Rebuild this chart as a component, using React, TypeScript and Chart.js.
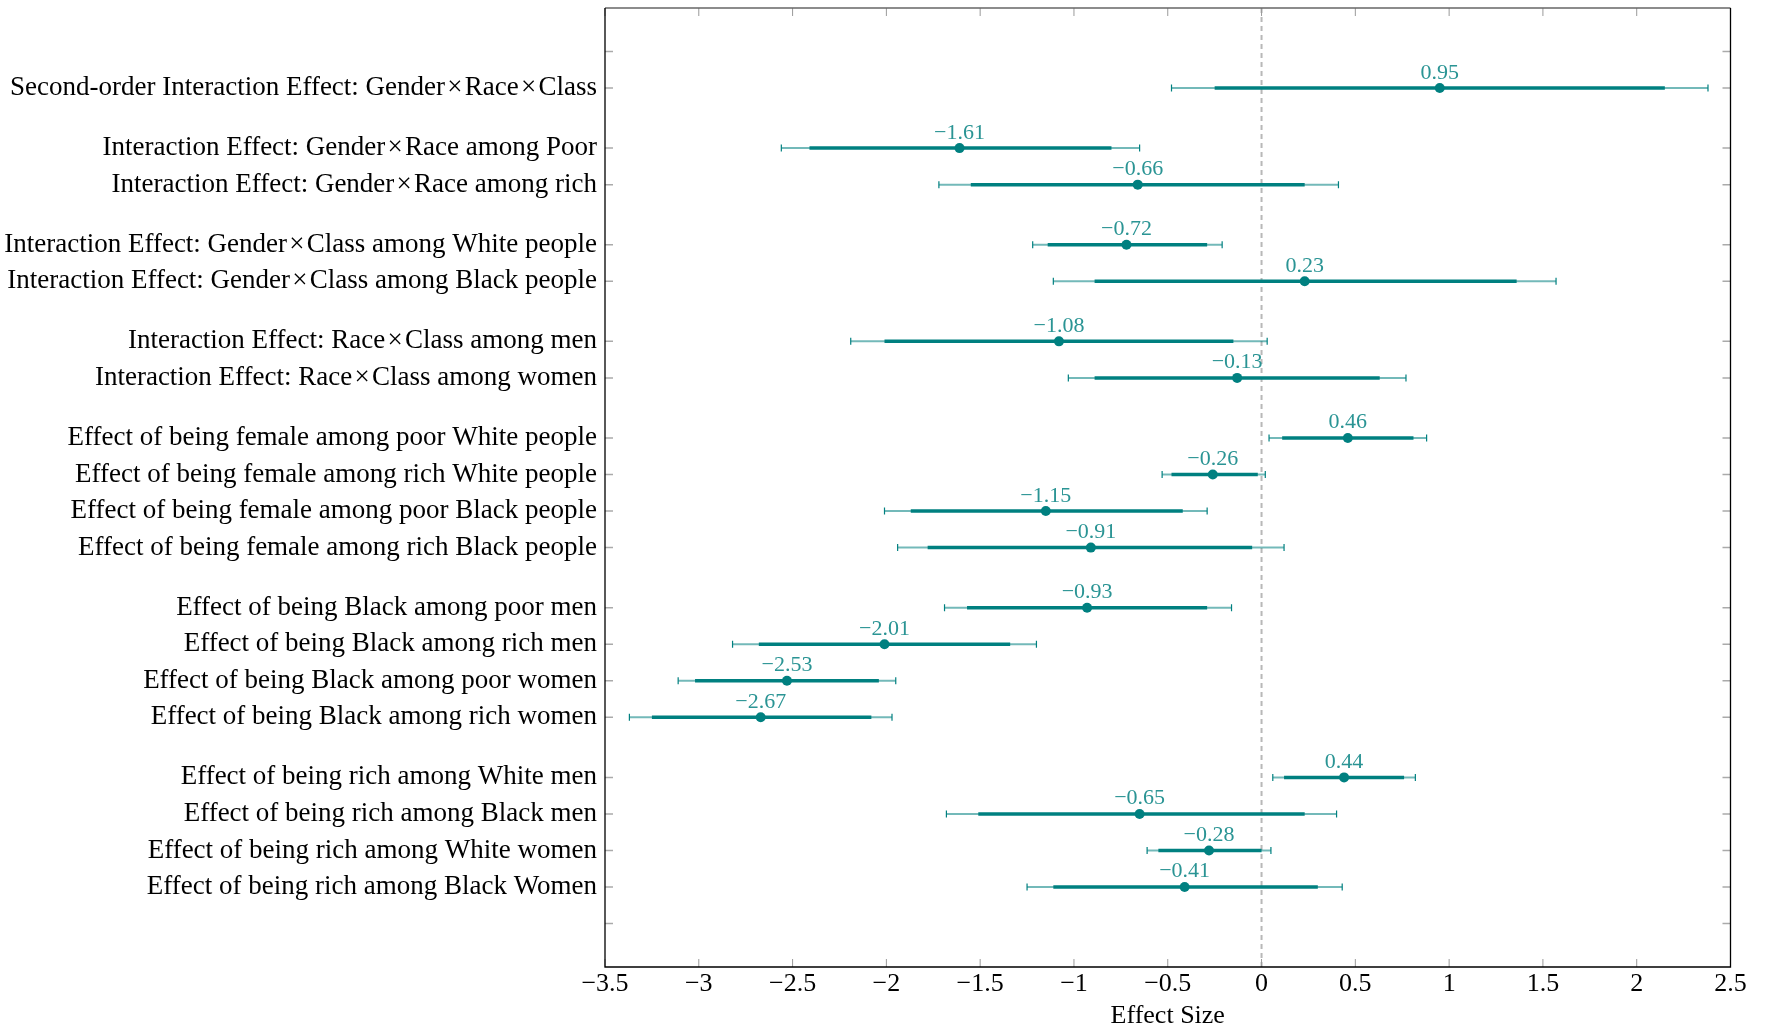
import React, { useEffect, useRef } from "react";
import { Chart, registerables } from "chart.js";

Chart.register(...registerables);

const X = "\u200a\u00d7\u200a";

const LABELS: string[] = [
  `Second-order Interaction Effect: Gender${X}Race${X}Class`,
  `Interaction Effect: Gender${X}Race among Poor`,
  `Interaction Effect: Gender${X}Race among rich`,
  `Interaction Effect: Gender${X}Class among White people`,
  `Interaction Effect: Gender${X}Class among Black people`,
  `Interaction Effect: Race${X}Class among men`,
  `Interaction Effect: Race${X}Class among women`,
  "Effect of being female among poor White people",
  "Effect of being female among rich White people",
  "Effect of being female among poor Black people",
  "Effect of being female among rich Black people",
  "Effect of being Black among poor men",
  "Effect of being Black among rich men",
  "Effect of being Black among poor women",
  "Effect of being Black among rich women",
  "Effect of being rich among White men",
  "Effect of being rich among Black men",
  "Effect of being rich among White women",
  "Effect of being rich among Black Women",
];

const ESTIMATES: number[] = [0.95, -1.61, -0.66, -0.72, 0.23, -1.08, -0.13, 0.46, -0.26, -1.15, -0.91, -0.93, -2.01, -2.53, -2.67, 0.44, -0.65, -0.28, -0.41];
const LO95: number[] = [-0.48, -2.56, -1.72, -1.22, -1.11, -2.19, -1.03, 0.04, -0.53, -2.01, -1.94, -1.69, -2.82, -3.11, -3.37, 0.06, -1.68, -0.61, -1.25];
const HI95: number[] = [2.38, -0.65, 0.41, -0.21, 1.57, 0.03, 0.77, 0.88, 0.02, -0.29, 0.12, -0.16, -1.2, -1.95, -1.97, 0.82, 0.4, 0.05, 0.43];
const LO90: number[] = [-0.25, -2.41, -1.55, -1.14, -0.89, -2.01, -0.89, 0.11, -0.48, -1.87, -1.78, -1.57, -2.68, -3.02, -3.25, 0.12, -1.51, -0.55, -1.11];
const HI90: number[] = [2.15, -0.8, 0.23, -0.29, 1.36, -0.15, 0.63, 0.81, -0.02, -0.42, -0.05, -0.29, -1.34, -2.04, -2.08, 0.76, 0.23, 0.0, 0.3];

const GROUP_SIZES: number[] = [1, 2, 2, 2, 4, 4, 4];
const GROUP_GAP = 1.645;
const X_TICKS: number[] = [-3.5, -3, -2.5, -2, -1.5, -1, -0.5, 0, 0.5, 1, 1.5, 2, 2.5];
const X_TITLE = "Effect Size";

const TEAL = "#008080";
const SERIF = "'Liberation Serif', 'Times New Roman', serif";

function rowPositions(): number[] {
  const pos: number[] = [];
  let y = 1;
  GROUP_SIZES.forEach((n, gi) => {
    if (gi > 0) y += GROUP_GAP - 1;
    for (let i = 0; i < n; i++) {
      pos.push(y);
      y += 1;
    }
  });
  return pos;
}

const POS = rowPositions();
const Y_TICK_VALUES = [0, ...POS, POS[POS.length - 1] + 1];
const Y_MIN = -1.19;
const Y_MAX = POS[POS.length - 1] + 1 + 1.19;

function fmtSigned(v: number, digits?: number): string {
  const a = Math.abs(v);
  const s = digits === undefined ? String(Math.round(a * 100) / 100) : a.toFixed(digits);
  return (v < 0 ? "\u2212" : "") + s;
}

const forestPlugin = {
  id: "forest",
  beforeDatasetsDraw(chart: any) {
    const { ctx, chartArea: a, scales } = chart;
    const x = scales.x;
    const y = scales.y;
    ctx.save();
    // zero reference line
    const x0 = x.getPixelForValue(0);
    ctx.strokeStyle = "#b8b8b8";
    ctx.lineWidth = 2;
    ctx.setLineDash([5, 4]);
    ctx.beginPath();
    ctx.moveTo(x0, a.top);
    ctx.lineTo(x0, a.bottom);
    ctx.stroke();
    ctx.setLineDash([]);

    POS.forEach((p, i) => {
      const py = y.getPixelForValue(p);
      const l95 = x.getPixelForValue(LO95[i]);
      const h95 = x.getPixelForValue(HI95[i]);
      const l90 = x.getPixelForValue(LO90[i]);
      const h90 = x.getPixelForValue(HI90[i]);
      // 95% whisker
      ctx.strokeStyle = "rgba(0,128,128,0.55)";
      ctx.lineWidth = 2;
      ctx.beginPath();
      ctx.moveTo(l95, py);
      ctx.lineTo(h95, py);
      ctx.stroke();
      // caps
      ctx.strokeStyle = TEAL;
      ctx.lineWidth = 1.2;
      ctx.beginPath();
      ctx.moveTo(l95, py - 3.5);
      ctx.lineTo(l95, py + 3.5);
      ctx.moveTo(h95, py - 3.5);
      ctx.lineTo(h95, py + 3.5);
      ctx.stroke();
      // 90% thick bar
      ctx.strokeStyle = TEAL;
      ctx.lineWidth = 3.5;
      ctx.beginPath();
      ctx.moveTo(l90, py);
      ctx.lineTo(h90, py);
      ctx.stroke();
    });
    ctx.restore();
  },
  afterDatasetsDraw(chart: any) {
    const { ctx, scales } = chart;
    const x = scales.x;
    const y = scales.y;
    ctx.save();
    ctx.fillStyle = "#2a9494";
    ctx.font = `22px ${SERIF}`;
    ctx.textAlign = "center";
    ctx.textBaseline = "alphabetic";
    POS.forEach((p, i) => {
      const px = x.getPixelForValue(ESTIMATES[i]);
      const py = y.getPixelForValue(p);
      ctx.fillText(fmtSigned(ESTIMATES[i], 2), px, py - 9.5);
    });
    ctx.restore();
  },
  afterDraw(chart: any) {
    const { ctx, chartArea: a, scales } = chart;
    const x = scales.x;
    const y = scales.y;
    ctx.save();
    // ticks
    ctx.strokeStyle = "#9a9a9a";
    ctx.lineWidth = 1;
    ctx.beginPath();
    X_TICKS.forEach((v) => {
      const px = x.getPixelForValue(v);
      ctx.moveTo(px, a.top);
      ctx.lineTo(px, a.top + 8);
      ctx.moveTo(px, a.bottom);
      ctx.lineTo(px, a.bottom - 8);
    });
    ctx.stroke();
    ctx.strokeStyle = "#aaaaaa";
    ctx.lineWidth = 1.5;
    ctx.beginPath();
    Y_TICK_VALUES.forEach((v) => {
      const py = y.getPixelForValue(v);
      ctx.moveTo(a.left, py);
      ctx.lineTo(a.left + 8, py);
      ctx.moveTo(a.right, py);
      ctx.lineTo(a.right - 8, py);
    });
    ctx.stroke();
    // frame
    ctx.strokeStyle = "#666666";
    ctx.lineWidth = 1.6;
    ctx.beginPath();
    ctx.moveTo(a.left, a.top);
    ctx.lineTo(a.right, a.top);
    ctx.stroke();
    ctx.strokeStyle = "#000000";
    ctx.lineWidth = 1.3;
    ctx.beginPath();
    ctx.moveTo(a.left, a.top);
    ctx.lineTo(a.left, a.bottom);
    ctx.lineTo(a.right, a.bottom);
    ctx.lineTo(a.right, a.top);
    ctx.stroke();
    ctx.restore();
  },
};

export default function App() {
  const canvasRef = useRef<HTMLCanvasElement | null>(null);

  useEffect(() => {
    document.body.style.margin = "0";
    const canvas = canvasRef.current;
    if (!canvas) return;
    const chart = new Chart(canvas, {
      type: "scatter",
      data: {
        datasets: [
          {
            data: ESTIMATES.map((e, i) => ({ x: e, y: POS[i] })),
            pointRadius: 5,
            pointHoverRadius: 5,
            backgroundColor: TEAL,
            borderColor: TEAL,
            borderWidth: 0,
            showLine: false,
          },
        ],
      },
      options: {
        responsive: false,
        animation: false,
        events: [],
        layout: { padding: { top: 8, right: 35.5, left: 0, bottom: 0 } },
        plugins: {
          legend: { display: false },
          tooltip: { enabled: false },
        },
        scales: {
          x: {
            type: "linear",
            min: -3.5,
            max: 2.5,
            afterBuildTicks: (s: any) => {
              s.ticks = X_TICKS.map((v) => ({ value: v }));
            },
            ticks: {
              autoSkip: false,
              maxRotation: 0,
              minRotation: 0,
              padding: 2,
              color: "#000",
              font: { family: SERIF, size: 26 },
              callback: (v: any) => fmtSigned(Number(v)),
            },
            grid: { display: false, drawTicks: false },
            border: { display: false },
            title: {
              display: true,
              text: X_TITLE,
              color: "#000",
              font: { family: SERIF, size: 26 },
              padding: { top: 0, bottom: 0 },
            },
            afterFit: (s: any) => {
              s.height = 65;
              s.paddingLeft = 0;
              s.paddingRight = 0;
            },
          },
          y: {
            type: "linear",
            reverse: true,
            min: Y_MIN,
            max: Y_MAX,
            afterBuildTicks: (s: any) => {
              s.ticks = Y_TICK_VALUES.map((v) => ({ value: v }));
            },
            ticks: {
              autoSkip: false,
              padding: 8,
              color: "#000",
              font: { family: SERIF, size: 27 },
              callback: (_v: any, idx: number) => (idx >= 1 && idx <= LABELS.length ? LABELS[idx - 1] : ""),
            },
            grid: { display: false, drawTicks: false },
            border: { display: false },
            afterFit: (s: any) => {
              s.width = 605;
              s.paddingTop = 0;
              s.paddingBottom = 0;
            },
          },
        },
      },
      plugins: [forestPlugin],
    } as any);
    return () => chart.destroy();
  }, []);

  return (
    <div style={{ position: "absolute", left: 0, top: 0, width: 1766, height: 1032, background: "#fff" }}>
      <canvas ref={canvasRef} width={1766} height={1032} style={{ display: "block", width: 1766, height: 1032 }} />
    </div>
  );
}
